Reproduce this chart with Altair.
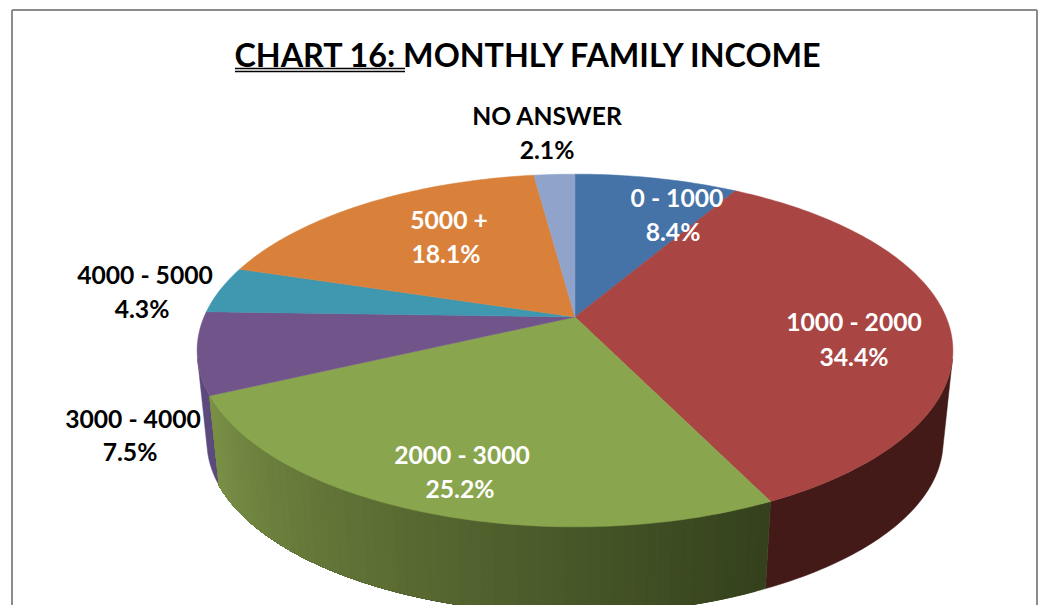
import math
import altair as alt
import pandas as pd

categories = ["0 - 1000", "1000 - 2000", "2000 - 3000", "3000 - 4000", "4000 - 5000", "5000 +", "NO ANSWER"]
shares = [8.4, 34.4, 25.2, 7.5, 4.3, 18.1, 2.1]
colors = ["#4572a7", "#a94542", "#89a54e", "#71558a", "#3f97b0", "#d9813b", "#8fa3cb"]

FONT = "Lato"
# perspective projection of the pie, in page pixels
AX, AY, RX, RY, K = 575, 317, 371, 170, 0.19
DEPTH, SHRINK = 92, 0.974
# rim angles where the side of the pie is tangent to its top and bottom rims
RIGHT_EDGE, LEFT_EDGE = 103.6, 256.4


def project(deg, bottom=False):
    t = math.radians(deg)
    u, v = math.sin(t), math.cos(t)
    d = 1 + K * v
    if bottom:
        return AX + SHRINK * RX * u / d, AY + DEPTH - SHRINK * RY * v / d
    return AX + RX * u / d, AY - RY * v / d


def mix(a, b, f):
    pa = [int(a[i:i + 2], 16) for i in (1, 3, 5)]
    pb = [int(b[i:i + 2], 16) for i in (1, 3, 5)]
    return "#" + "".join(f"{round(x + (y - x) * f):02x}" for x, y in zip(pa, pb))


wall_shades = {
    "3000 - 4000": ("#5c4a7f", "#5c4a7f"),
    "1000 - 2000": ("#431a17", "#431a17"),
    "2000 - 3000": ("#33401c", "#7a9046"),
}

rows = []
gid = 0
start = 0.0
spans = {}
for cat, share, col in zip(categories, shares, colors):
    end = start + share * 3.6
    spans[cat] = (start, end, col)
    start = end

# side walls: only the visible stretch of the rim; the shaded one is a run of
# overlapping pieces, each reaching to the far end, so that no seams show
for cat, (dark, light) in wall_shades.items():
    a0, a1, col = spans[cat]
    a0 = max(a0, RIGHT_EDGE)
    a1 = min(a1, LEFT_EDGE)
    n = 1 if dark == light else max(2, int((a1 - a0) / 1.5))
    for j in range(n):
        s0 = a0 + (a1 - a0) * j / n
        f = (j + 0.5) / n
        shade = mix(dark, light, f)
        m = max(2, int((a1 - s0) / 1.0))
        arc = [s0 + (a1 - s0) * k / m for k in range(m + 1)]
        pts = [project(s) for s in arc] + [project(s, True) for s in reversed(arc)]
        for i, (x, y) in enumerate(pts):
            rows.append(dict(id=gid, i=i, x=x, y=y, fill=shade))
        gid += 1

# top face
for cat in categories:
    a0, a1, col = spans[cat]
    n = max(3, int((a1 - a0) / 1.0))
    pts = [(AX, AY)] + [project(a0 + (a1 - a0) * k / n) for k in range(n + 1)]
    for i, (x, y) in enumerate(pts):
        rows.append(dict(id=gid, i=i, x=x, y=y, fill=col))
    gid += 1

poly = pd.DataFrame(rows)

x_scale = alt.Scale(domain=[8, 1038], nice=False, zero=False)
y_scale = alt.Scale(domain=[605, 8], nice=False, zero=False)

pie = alt.Chart(poly).mark_line(
    filled=True, interpolate="linear-closed", strokeWidth=0.5, clip=True
).encode(
    x=alt.X("x:Q", scale=x_scale, axis=None),
    y=alt.Y("y:Q", scale=y_scale, axis=None),
    detail="id:N",
    order=alt.Order("i:Q"),
    fill=alt.Fill("fill:N", scale=None, legend=None),
    stroke=alt.Stroke("fill:N", scale=None, legend=None),
)

label_pos = {
    "0 - 1000": (677, 200, 673, 234, "white"),
    "1000 - 2000": (854, 324, 854, 359, "white"),
    "2000 - 3000": (462, 457, 460, 491, "white"),
    "3000 - 4000": (133, 421, 130, 454, "black"),
    "4000 - 5000": (145, 277, 142, 311, "black"),
    "5000 +": (449, 222, 446, 256, "white"),
    "NO ANSWER": (547, 118, 547, 152, "black"),
}
text_rows = []
for cat, share in zip(categories, shares):
    x1, y1, x2, y2, c = label_pos[cat]
    text_rows.append(dict(x=x1, y=y1, t=cat, c=c))
    text_rows.append(dict(x=x2, y=y2, t=f"{share:.1f}%", c=c))

labels = alt.Chart(pd.DataFrame(text_rows)).mark_text(
    font=FONT, fontWeight="bold", fontSize=24.7, baseline="middle", align="center"
).encode(
    x=alt.X("x:Q", scale=x_scale, axis=None),
    y=alt.Y("y:Q", scale=y_scale, axis=None),
    text="t:N",
    color=alt.Color("c:N", scale=None, legend=None),
)

title = alt.Chart(pd.DataFrame([dict(x=527.5, y=56.5, t="CHART 16: MONTHLY FAMILY INCOME")])).mark_text(
    font=FONT, fontWeight="bold", fontSize=32.3, baseline="middle", align="center", color="black"
).encode(
    x=alt.X("x:Q", scale=x_scale, axis=None),
    y=alt.Y("y:Q", scale=y_scale, axis=None),
    text="t:N",
)

lines = pd.DataFrame([
    dict(x=235, x2=405, y=68.5, y2=68.5, c="black", w=1.6),
    dict(x=235, x2=405, y=71.5, y2=71.5, c="black", w=1.4),
    dict(x=12, x2=1037, y=10, y2=10, c="#8c8c8c", w=2),
    dict(x=12, x2=12, y=10, y2=605, c="#8c8c8c", w=2),
    dict(x=1037, x2=1037, y=10, y2=605, c="#8c8c8c", w=2),
])
rules = alt.Chart(lines).mark_rule().encode(
    x=alt.X("x:Q", scale=x_scale, axis=None),
    x2="x2:Q",
    y=alt.Y("y:Q", scale=y_scale, axis=None),
    y2="y2:Q",
    color=alt.Color("c:N", scale=None, legend=None),
    strokeWidth=alt.StrokeWidth("w:Q", scale=None, legend=None),
)

chart = alt.layer(rules, pie, labels, title).properties(
    width=1030, height=597, padding=0, background="white"
).configure_view(stroke=None)

chart.save("out.html", embed_options={"renderer": "svg", "actions": False})
